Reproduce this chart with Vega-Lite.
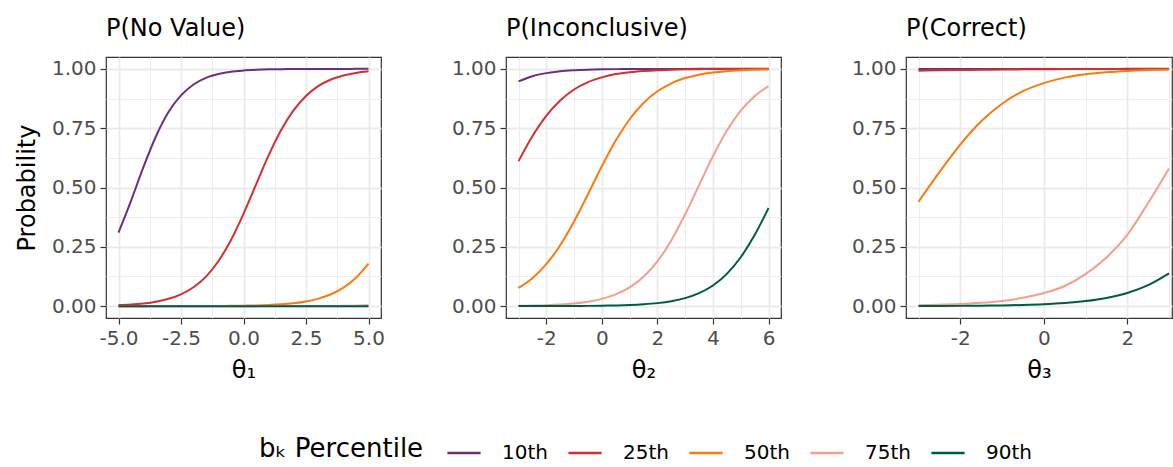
{
  "$schema": "https://vega.github.io/schema/vega-lite/v6.json",
  "padding": {"left": 14, "top": 16, "right": 0, "bottom": 0},
  "spacing": 125,
  "bounds": "flush",
  "data": {"values": [
    {"panel":"No Value","theta":-5,"pct":"10th","p":0.310},{"panel":"No Value","theta":-4.5,"pct":"10th","p":0.444},{"panel":"No Value","theta":-4,"pct":"10th","p":0.587},{"panel":"No Value","theta":-3.5,"pct":"10th","p":0.716},{"panel":"No Value","theta":-3,"pct":"10th","p":0.818},{"panel":"No Value","theta":-2.5,"pct":"10th","p":0.888},{"panel":"No Value","theta":-2,"pct":"10th","p":0.934},{"panel":"No Value","theta":-1.5,"pct":"10th","p":0.962},{"panel":"No Value","theta":-1,"pct":"10th","p":0.978},{"panel":"No Value","theta":-0.5,"pct":"10th","p":0.988},{"panel":"No Value","theta":0,"pct":"10th","p":0.993},{"panel":"No Value","theta":0.5,"pct":"10th","p":0.996},{"panel":"No Value","theta":1,"pct":"10th","p":0.998},{"panel":"No Value","theta":1.5,"pct":"10th","p":0.9987},{"panel":"No Value","theta":2,"pct":"10th","p":0.9993},{"panel":"No Value","theta":2.5,"pct":"10th","p":0.9996},{"panel":"No Value","theta":3,"pct":"10th","p":0.9998},{"panel":"No Value","theta":3.5,"pct":"10th","p":0.9999},{"panel":"No Value","theta":4,"pct":"10th","p":0.9999},{"panel":"No Value","theta":4.5,"pct":"10th","p":1.0},{"panel":"No Value","theta":5,"pct":"10th","p":1.0},
    {"panel":"No Value","theta":-5,"pct":"25th","p":0.0043},{"panel":"No Value","theta":-4.5,"pct":"25th","p":0.0070},{"panel":"No Value","theta":-4,"pct":"25th","p":0.0115},{"panel":"No Value","theta":-3.5,"pct":"25th","p":0.0189},{"panel":"No Value","theta":-3,"pct":"25th","p":0.0308},{"panel":"No Value","theta":-2.5,"pct":"25th","p":0.0497},{"panel":"No Value","theta":-2,"pct":"25th","p":0.0794},{"panel":"No Value","theta":-1.5,"pct":"25th","p":0.1246},{"panel":"No Value","theta":-1,"pct":"25th","p":0.190},{"panel":"No Value","theta":-0.5,"pct":"25th","p":0.279},{"panel":"No Value","theta":0,"pct":"25th","p":0.389},{"panel":"No Value","theta":0.5,"pct":"25th","p":0.512},{"panel":"No Value","theta":1,"pct":"25th","p":0.634},{"panel":"No Value","theta":1.5,"pct":"25th","p":0.741},{"panel":"No Value","theta":2,"pct":"25th","p":0.825},{"panel":"No Value","theta":2.5,"pct":"25th","p":0.886},{"panel":"No Value","theta":3,"pct":"25th","p":0.928},{"panel":"No Value","theta":3.5,"pct":"25th","p":0.955},{"panel":"No Value","theta":4,"pct":"25th","p":0.972},{"panel":"No Value","theta":4.5,"pct":"25th","p":0.983},{"panel":"No Value","theta":5,"pct":"25th","p":0.9895},
    {"panel":"No Value","theta":-5,"pct":"50th","p":0},{"panel":"No Value","theta":-4.5,"pct":"50th","p":0},{"panel":"No Value","theta":-4,"pct":"50th","p":0},{"panel":"No Value","theta":-3.5,"pct":"50th","p":0.0001},{"panel":"No Value","theta":-3,"pct":"50th","p":0.0001},{"panel":"No Value","theta":-2.5,"pct":"50th","p":0.0002},{"panel":"No Value","theta":-2,"pct":"50th","p":0.0003},{"panel":"No Value","theta":-1.5,"pct":"50th","p":0.0005},{"panel":"No Value","theta":-1,"pct":"50th","p":0.0007},{"panel":"No Value","theta":-0.5,"pct":"50th","p":0.0012},{"panel":"No Value","theta":0,"pct":"50th","p":0.0019},{"panel":"No Value","theta":0.5,"pct":"50th","p":0.0030},{"panel":"No Value","theta":1,"pct":"50th","p":0.0049},{"panel":"No Value","theta":1.5,"pct":"50th","p":0.0078},{"panel":"No Value","theta":2,"pct":"50th","p":0.0125},{"panel":"No Value","theta":2.5,"pct":"50th","p":0.0199},{"panel":"No Value","theta":3,"pct":"50th","p":0.0317},{"panel":"No Value","theta":3.5,"pct":"50th","p":0.0500},{"panel":"No Value","theta":4,"pct":"50th","p":0.0779},{"panel":"No Value","theta":4.5,"pct":"50th","p":0.1197},{"panel":"No Value","theta":5,"pct":"50th","p":0.1795},
    {"panel":"No Value","theta":-5,"pct":"75th","p":0},{"panel":"No Value","theta":-4.5,"pct":"75th","p":0},{"panel":"No Value","theta":-4,"pct":"75th","p":0},{"panel":"No Value","theta":-3.5,"pct":"75th","p":0},{"panel":"No Value","theta":-3,"pct":"75th","p":0},{"panel":"No Value","theta":-2.5,"pct":"75th","p":0},{"panel":"No Value","theta":-2,"pct":"75th","p":0},{"panel":"No Value","theta":-1.5,"pct":"75th","p":0},{"panel":"No Value","theta":-1,"pct":"75th","p":0},{"panel":"No Value","theta":-0.5,"pct":"75th","p":0},{"panel":"No Value","theta":0,"pct":"75th","p":0},{"panel":"No Value","theta":0.5,"pct":"75th","p":0},{"panel":"No Value","theta":1,"pct":"75th","p":0.0001},{"panel":"No Value","theta":1.5,"pct":"75th","p":0.0001},{"panel":"No Value","theta":2,"pct":"75th","p":0.0002},{"panel":"No Value","theta":2.5,"pct":"75th","p":0.0003},{"panel":"No Value","theta":3,"pct":"75th","p":0.0005},{"panel":"No Value","theta":3.5,"pct":"75th","p":0.0008},{"panel":"No Value","theta":4,"pct":"75th","p":0.0013},{"panel":"No Value","theta":4.5,"pct":"75th","p":0.0021},{"panel":"No Value","theta":5,"pct":"75th","p":0.0034},
    {"panel":"No Value","theta":-5,"pct":"90th","p":0},{"panel":"No Value","theta":-4.5,"pct":"90th","p":0},{"panel":"No Value","theta":-4,"pct":"90th","p":0},{"panel":"No Value","theta":-3.5,"pct":"90th","p":0},{"panel":"No Value","theta":-3,"pct":"90th","p":0},{"panel":"No Value","theta":-2.5,"pct":"90th","p":0},{"panel":"No Value","theta":-2,"pct":"90th","p":0},{"panel":"No Value","theta":-1.5,"pct":"90th","p":0},{"panel":"No Value","theta":-1,"pct":"90th","p":0},{"panel":"No Value","theta":-0.5,"pct":"90th","p":0},{"panel":"No Value","theta":0,"pct":"90th","p":0},{"panel":"No Value","theta":0.5,"pct":"90th","p":0},{"panel":"No Value","theta":1,"pct":"90th","p":0},{"panel":"No Value","theta":1.5,"pct":"90th","p":0},{"panel":"No Value","theta":2,"pct":"90th","p":0},{"panel":"No Value","theta":2.5,"pct":"90th","p":0},{"panel":"No Value","theta":3,"pct":"90th","p":0},{"panel":"No Value","theta":3.5,"pct":"90th","p":0},{"panel":"No Value","theta":4,"pct":"90th","p":0},{"panel":"No Value","theta":4.5,"pct":"90th","p":0},{"panel":"No Value","theta":5,"pct":"90th","p":0},

    {"panel":"Inconclusive","theta":-3,"pct":"10th","p":0.947},{"panel":"Inconclusive","theta":-2.5,"pct":"10th","p":0.969},{"panel":"Inconclusive","theta":-2,"pct":"10th","p":0.982},{"panel":"Inconclusive","theta":-1.5,"pct":"10th","p":0.990},{"panel":"Inconclusive","theta":-1,"pct":"10th","p":0.9942},{"panel":"Inconclusive","theta":-0.5,"pct":"10th","p":0.9967},{"panel":"Inconclusive","theta":0,"pct":"10th","p":0.9981},{"panel":"Inconclusive","theta":0.5,"pct":"10th","p":0.9989},{"panel":"Inconclusive","theta":1,"pct":"10th","p":0.9994},{"panel":"Inconclusive","theta":1.5,"pct":"10th","p":0.9997},{"panel":"Inconclusive","theta":2,"pct":"10th","p":0.9998},{"panel":"Inconclusive","theta":2.5,"pct":"10th","p":0.9999},{"panel":"Inconclusive","theta":3,"pct":"10th","p":0.9999},{"panel":"Inconclusive","theta":3.5,"pct":"10th","p":1},{"panel":"Inconclusive","theta":4,"pct":"10th","p":1},{"panel":"Inconclusive","theta":4.5,"pct":"10th","p":1},{"panel":"Inconclusive","theta":5,"pct":"10th","p":1},{"panel":"Inconclusive","theta":5.5,"pct":"10th","p":1},{"panel":"Inconclusive","theta":6,"pct":"10th","p":1},
    {"panel":"Inconclusive","theta":-3,"pct":"25th","p":0.611},{"panel":"Inconclusive","theta":-2.5,"pct":"25th","p":0.716},{"panel":"Inconclusive","theta":-2,"pct":"25th","p":0.802},{"panel":"Inconclusive","theta":-1.5,"pct":"25th","p":0.867},{"panel":"Inconclusive","theta":-1,"pct":"25th","p":0.913},{"panel":"Inconclusive","theta":-0.5,"pct":"25th","p":0.944},{"panel":"Inconclusive","theta":0,"pct":"25th","p":0.964},{"panel":"Inconclusive","theta":0.5,"pct":"25th","p":0.978},{"panel":"Inconclusive","theta":1,"pct":"25th","p":0.986},{"panel":"Inconclusive","theta":1.5,"pct":"25th","p":0.991},{"panel":"Inconclusive","theta":2,"pct":"25th","p":0.9945},{"panel":"Inconclusive","theta":2.5,"pct":"25th","p":0.9966},{"panel":"Inconclusive","theta":3,"pct":"25th","p":0.9979},{"panel":"Inconclusive","theta":3.5,"pct":"25th","p":0.9987},{"panel":"Inconclusive","theta":4,"pct":"25th","p":0.9992},{"panel":"Inconclusive","theta":4.5,"pct":"25th","p":0.9995},{"panel":"Inconclusive","theta":5,"pct":"25th","p":0.9997},{"panel":"Inconclusive","theta":5.5,"pct":"25th","p":0.9998},{"panel":"Inconclusive","theta":6,"pct":"25th","p":0.9999},
    {"panel":"Inconclusive","theta":-3,"pct":"50th","p":0.0766},{"panel":"Inconclusive","theta":-2.5,"pct":"50th","p":0.1177},{"panel":"Inconclusive","theta":-2,"pct":"50th","p":0.1767},{"panel":"Inconclusive","theta":-1.5,"pct":"50th","p":0.2566},{"panel":"Inconclusive","theta":-1,"pct":"50th","p":0.3569},{"panel":"Inconclusive","theta":-0.5,"pct":"50th","p":0.4715},{"panel":"Inconclusive","theta":0,"pct":"50th","p":0.5893},{"panel":"Inconclusive","theta":0.5,"pct":"50th","p":0.6976},{"panel":"Inconclusive","theta":1,"pct":"50th","p":0.7877},{"panel":"Inconclusive","theta":1.5,"pct":"50th","p":0.8564},{"panel":"Inconclusive","theta":2,"pct":"50th","p":0.9056},{"panel":"Inconclusive","theta":2.5,"pct":"50th","p":0.9391},{"panel":"Inconclusive","theta":3,"pct":"50th","p":0.9612},{"panel":"Inconclusive","theta":3.5,"pct":"50th","p":0.9755},{"panel":"Inconclusive","theta":4,"pct":"50th","p":0.9846},{"panel":"Inconclusive","theta":4.5,"pct":"50th","p":0.9904},{"panel":"Inconclusive","theta":5,"pct":"50th","p":0.9940},{"panel":"Inconclusive","theta":5.5,"pct":"50th","p":0.9963},{"panel":"Inconclusive","theta":6,"pct":"50th","p":0.9977},
    {"panel":"Inconclusive","theta":-3,"pct":"75th","p":0.0016},{"panel":"Inconclusive","theta":-2.5,"pct":"75th","p":0.0026},{"panel":"Inconclusive","theta":-2,"pct":"75th","p":0.0042},{"panel":"Inconclusive","theta":-1.5,"pct":"75th","p":0.0070},{"panel":"Inconclusive","theta":-1,"pct":"75th","p":0.0114},{"panel":"Inconclusive","theta":-0.5,"pct":"75th","p":0.0187},{"panel":"Inconclusive","theta":0,"pct":"75th","p":0.0305},{"panel":"Inconclusive","theta":0.5,"pct":"75th","p":0.0493},{"panel":"Inconclusive","theta":1,"pct":"75th","p":0.0787},{"panel":"Inconclusive","theta":1.5,"pct":"75th","p":0.1235},{"panel":"Inconclusive","theta":2,"pct":"75th","p":0.1885},{"panel":"Inconclusive","theta":2.5,"pct":"75th","p":0.2769},{"panel":"Inconclusive","theta":3,"pct":"75th","p":0.3870},{"panel":"Inconclusive","theta":3.5,"pct":"75th","p":0.5100},{"panel":"Inconclusive","theta":4,"pct":"75th","p":0.6318},{"panel":"Inconclusive","theta":4.5,"pct":"75th","p":0.7389},{"panel":"Inconclusive","theta":5,"pct":"75th","p":0.8235},{"panel":"Inconclusive","theta":5.5,"pct":"75th","p":0.8849},{"panel":"Inconclusive","theta":6,"pct":"75th","p":0.9269},
    {"panel":"Inconclusive","theta":-3,"pct":"90th","p":0.0001},{"panel":"Inconclusive","theta":-2.5,"pct":"90th","p":0.0001},{"panel":"Inconclusive","theta":-2,"pct":"90th","p":0.0002},{"panel":"Inconclusive","theta":-1.5,"pct":"90th","p":0.0004},{"panel":"Inconclusive","theta":-1,"pct":"90th","p":0.0006},{"panel":"Inconclusive","theta":-0.5,"pct":"90th","p":0.0011},{"panel":"Inconclusive","theta":0,"pct":"90th","p":0.0017},{"panel":"Inconclusive","theta":0.5,"pct":"90th","p":0.0029},{"panel":"Inconclusive","theta":1,"pct":"90th","p":0.0047},{"panel":"Inconclusive","theta":1.5,"pct":"90th","p":0.0078},{"panel":"Inconclusive","theta":2,"pct":"90th","p":0.0127},{"panel":"Inconclusive","theta":2.5,"pct":"90th","p":0.0208},{"panel":"Inconclusive","theta":3,"pct":"90th","p":0.0339},{"panel":"Inconclusive","theta":3.5,"pct":"90th","p":0.0547},{"panel":"Inconclusive","theta":4,"pct":"90th","p":0.0871},{"panel":"Inconclusive","theta":4.5,"pct":"90th","p":0.1359},{"panel":"Inconclusive","theta":5,"pct":"90th","p":0.2059},{"panel":"Inconclusive","theta":5.5,"pct":"90th","p":0.2994},{"panel":"Inconclusive","theta":6,"pct":"90th","p":0.4134},

    {"panel":"Correct","theta":-3,"pct":"10th","p":0.9994},{"panel":"Correct","theta":-2.5,"pct":"10th","p":0.9995},{"panel":"Correct","theta":-2,"pct":"10th","p":0.9996},{"panel":"Correct","theta":-1.5,"pct":"10th","p":0.9997},{"panel":"Correct","theta":-1,"pct":"10th","p":0.9997},{"panel":"Correct","theta":-0.5,"pct":"10th","p":0.9998},{"panel":"Correct","theta":0,"pct":"10th","p":0.9998},{"panel":"Correct","theta":0.5,"pct":"10th","p":0.9999},{"panel":"Correct","theta":1,"pct":"10th","p":0.9999},{"panel":"Correct","theta":1.5,"pct":"10th","p":0.9999},{"panel":"Correct","theta":2,"pct":"10th","p":1},{"panel":"Correct","theta":2.5,"pct":"10th","p":1},{"panel":"Correct","theta":3,"pct":"10th","p":1},
    {"panel":"Correct","theta":-3,"pct":"25th","p":0.992},{"panel":"Correct","theta":-2.5,"pct":"25th","p":0.994},{"panel":"Correct","theta":-2,"pct":"25th","p":0.995},{"panel":"Correct","theta":-1.5,"pct":"25th","p":0.996},{"panel":"Correct","theta":-1,"pct":"25th","p":0.997},{"panel":"Correct","theta":-0.5,"pct":"25th","p":0.998},{"panel":"Correct","theta":0,"pct":"25th","p":0.9985},{"panel":"Correct","theta":0.5,"pct":"25th","p":0.999},{"panel":"Correct","theta":1,"pct":"25th","p":0.9993},{"panel":"Correct","theta":1.5,"pct":"25th","p":0.9995},{"panel":"Correct","theta":2,"pct":"25th","p":0.9996},{"panel":"Correct","theta":2.5,"pct":"25th","p":0.9997},{"panel":"Correct","theta":3,"pct":"25th","p":0.9998},
    {"panel":"Correct","theta":-3,"pct":"50th","p":0.440},{"panel":"Correct","theta":-2.5,"pct":"50th","p":0.565},{"panel":"Correct","theta":-2,"pct":"50th","p":0.681},{"panel":"Correct","theta":-1.5,"pct":"50th","p":0.779},{"panel":"Correct","theta":-1,"pct":"50th","p":0.853},{"panel":"Correct","theta":-0.5,"pct":"50th","p":0.906},{"panel":"Correct","theta":0,"pct":"50th","p":0.940},{"panel":"Correct","theta":0.5,"pct":"50th","p":0.963},{"panel":"Correct","theta":1,"pct":"50th","p":0.977},{"panel":"Correct","theta":1.5,"pct":"50th","p":0.986},{"panel":"Correct","theta":2,"pct":"50th","p":0.9915},{"panel":"Correct","theta":2.5,"pct":"50th","p":0.9948},{"panel":"Correct","theta":3,"pct":"50th","p":0.9969},
    {"panel":"Correct","theta":-3,"pct":"75th","p":0.004},{"panel":"Correct","theta":-2.5,"pct":"75th","p":0.006},{"panel":"Correct","theta":-2,"pct":"75th","p":0.009},{"panel":"Correct","theta":-1.5,"pct":"75th","p":0.014},{"panel":"Correct","theta":-1,"pct":"75th","p":0.022},{"panel":"Correct","theta":-0.5,"pct":"75th","p":0.035},{"panel":"Correct","theta":0,"pct":"75th","p":0.055},{"panel":"Correct","theta":0.5,"pct":"75th","p":0.085},{"panel":"Correct","theta":1,"pct":"75th","p":0.135},{"panel":"Correct","theta":1.5,"pct":"75th","p":0.205},{"panel":"Correct","theta":2,"pct":"75th","p":0.300},{"panel":"Correct","theta":2.5,"pct":"75th","p":0.435},{"panel":"Correct","theta":3,"pct":"75th","p":0.580},
    {"panel":"Correct","theta":-3,"pct":"90th","p":0.0004},{"panel":"Correct","theta":-2.5,"pct":"90th","p":0.0007},{"panel":"Correct","theta":-2,"pct":"90th","p":0.0011},{"panel":"Correct","theta":-1.5,"pct":"90th","p":0.0018},{"panel":"Correct","theta":-1,"pct":"90th","p":0.0029},{"panel":"Correct","theta":-0.5,"pct":"90th","p":0.0048},{"panel":"Correct","theta":0,"pct":"90th","p":0.0079},{"panel":"Correct","theta":0.5,"pct":"90th","p":0.0130},{"panel":"Correct","theta":1,"pct":"90th","p":0.0212},{"panel":"Correct","theta":1.5,"pct":"90th","p":0.0345},{"panel":"Correct","theta":2,"pct":"90th","p":0.0557},{"panel":"Correct","theta":2.5,"pct":"90th","p":0.0887},{"panel":"Correct","theta":3,"pct":"90th","p":0.1382}
  ]},
  "hconcat": [
    {
      "title": {"text": "P(No Value)"},
      "width": 275, "height": 261,
      "transform": [{"filter": "datum.panel === 'No Value'"}],
      "mark": {"type": "line", "strokeWidth": 2, "interpolate": "monotone", "clip": true},
      "encoding": {
        "x": {"field": "theta", "type": "quantitative", "scale": {"domain": [-5.5, 5.5], "nice": false, "zero": false},
          "axis": {"title": "θ₁", "values": [-5, -3.75, -2.5, -1.25, 0, 1.25, 2.5, 3.75, 5],
            "labelExpr": "datum.value % 2.5 === 0 ? replace(format(datum.value, '.1f'), '\u2212', '-') : ''",
            "tickOpacity": {"condition": {"test": "datum.value % 2.5 !== 0", "value": 0}, "value": 1},
            "gridWidth": {"condition": {"test": "datum.value % 2.5 !== 0", "value": 0.9}, "value": 1.8}}},
        "y": {"field": "p", "type": "quantitative", "scale": {"domain": [-0.05, 1.05], "nice": false, "zero": false},
          "axis": {"title": "Probability", "values": [0, 0.125, 0.25, 0.375, 0.5, 0.625, 0.75, 0.875, 1],
            "labelExpr": "(datum.value * 8) % 2 === 0 ? format(datum.value, '.2f') : ''",
            "tickOpacity": {"condition": {"test": "(datum.value * 8) % 2 !== 0", "value": 0}, "value": 1},
            "gridWidth": {"condition": {"test": "(datum.value * 8) % 2 !== 0", "value": 0.9}, "value": 1.8}}},
        "color": {"field": "pct", "type": "nominal",
          "scale": {"domain": ["10th", "25th", "50th", "75th", "90th"], "range": ["#6B2F82", "#D42F2F", "#FB7A10", "#F2A08B", "#005A46"]},
          "legend": {"title": "bₖ Percentile", "orient": "none", "legendX": 153, "legendY": 378, "direction": "horizontal", "titleOrient": "left"}}
      }
    },
    {
      "title": {"text": "P(Inconclusive)"},
      "width": 275, "height": 261,
      "transform": [{"filter": "datum.panel === 'Inconclusive'"}],
      "mark": {"type": "line", "strokeWidth": 2, "interpolate": "monotone", "clip": true},
      "encoding": {
        "x": {"field": "theta", "type": "quantitative", "scale": {"domain": [-3.45, 6.45], "nice": false, "zero": false},
          "axis": {"title": "θ₂", "values": [-3, -2, -1, 0, 1, 2, 3, 4, 5, 6],
            "labelExpr": "datum.value % 2 === 0 ? replace(format(datum.value, 'd'), '\u2212', '-') : ''",
            "tickOpacity": {"condition": {"test": "datum.value % 2 !== 0", "value": 0}, "value": 1},
            "gridWidth": {"condition": {"test": "datum.value % 2 !== 0", "value": 0.9}, "value": 1.8}}},
        "y": {"field": "p", "type": "quantitative", "scale": {"domain": [-0.05, 1.05], "nice": false, "zero": false},
          "axis": {"title": null, "values": [0, 0.125, 0.25, 0.375, 0.5, 0.625, 0.75, 0.875, 1],
            "labelExpr": "(datum.value * 8) % 2 === 0 ? format(datum.value, '.2f') : ''",
            "tickOpacity": {"condition": {"test": "(datum.value * 8) % 2 !== 0", "value": 0}, "value": 1},
            "gridWidth": {"condition": {"test": "(datum.value * 8) % 2 !== 0", "value": 0.9}, "value": 1.8}}},
        "color": {"field": "pct", "type": "nominal",
          "scale": {"domain": ["10th", "25th", "50th", "75th", "90th"], "range": ["#6B2F82", "#D42F2F", "#FB7A10", "#F2A08B", "#005A46"]},
          "legend": {"title": "bₖ Percentile", "orient": "none", "legendX": 153, "legendY": 378, "direction": "horizontal", "titleOrient": "left"}}
      }
    },
    {
      "title": {"text": "P(Correct)"},
      "width": 266, "height": 261,
      "transform": [{"filter": "datum.panel === 'Correct'"}],
      "mark": {"type": "line", "strokeWidth": 2, "interpolate": "monotone", "clip": true},
      "encoding": {
        "x": {"field": "theta", "type": "quantitative", "scale": {"domain": [-3.3, 3.071], "nice": false, "zero": false},
          "axis": {"title": "θ₃", "values": [-3, -2, -1, 0, 1, 2, 3],
            "labelExpr": "datum.value % 2 === 0 ? replace(format(datum.value, 'd'), '\u2212', '-') : ''",
            "tickOpacity": {"condition": {"test": "datum.value % 2 !== 0", "value": 0}, "value": 1},
            "gridWidth": {"condition": {"test": "datum.value % 2 !== 0", "value": 0.9}, "value": 1.8}}},
        "y": {"field": "p", "type": "quantitative", "scale": {"domain": [-0.05, 1.05], "nice": false, "zero": false},
          "axis": {"title": null, "values": [0, 0.125, 0.25, 0.375, 0.5, 0.625, 0.75, 0.875, 1],
            "labelExpr": "(datum.value * 8) % 2 === 0 ? format(datum.value, '.2f') : ''",
            "tickOpacity": {"condition": {"test": "(datum.value * 8) % 2 !== 0", "value": 0}, "value": 1},
            "gridWidth": {"condition": {"test": "(datum.value * 8) % 2 !== 0", "value": 0.9}, "value": 1.8}}},
        "color": {"field": "pct", "type": "nominal",
          "scale": {"domain": ["10th", "25th", "50th", "75th", "90th"], "range": ["#6B2F82", "#D42F2F", "#FB7A10", "#F2A08B", "#005A46"]},
          "legend": {"title": "bₖ Percentile", "orient": "none", "legendX": 153, "legendY": 378, "direction": "horizontal", "titleOrient": "left"}}
      }
    }
  ],
  "config": {
    "font": "DejaVu Sans",
    "view": {"stroke": "#333333", "strokeWidth": 1.2},
    "axis": {"domain": false, "grid": true, "gridColor": "#EBEBEB", "labelFontSize": 20, "labelColor": "#4D4D4D", "tickColor": "#333333", "tickSize": 6, "tickWidth": 1.2, "labelPadding": 4, "titleFontSize": 24, "titleFontWeight": "normal", "titleColor": "#000000"},
    "axisX": {"titlePadding": 10},
    "axisY": {"titlePadding": 12},
    "title": {"fontSize": 24, "fontWeight": "normal", "anchor": "start", "frame": "group", "color": "#000000", "offset": 16},
    "legend": {"titleFontSize": 26, "titleFontWeight": "normal", "titleColor": "#000000", "labelFontSize": 20, "labelColor": "#000000", "symbolType": "stroke", "symbolSize": 1100, "symbolStrokeWidth": 2.5, "labelOffset": 20, "columnPadding": 15, "titlePadding": 22}
  }
}
